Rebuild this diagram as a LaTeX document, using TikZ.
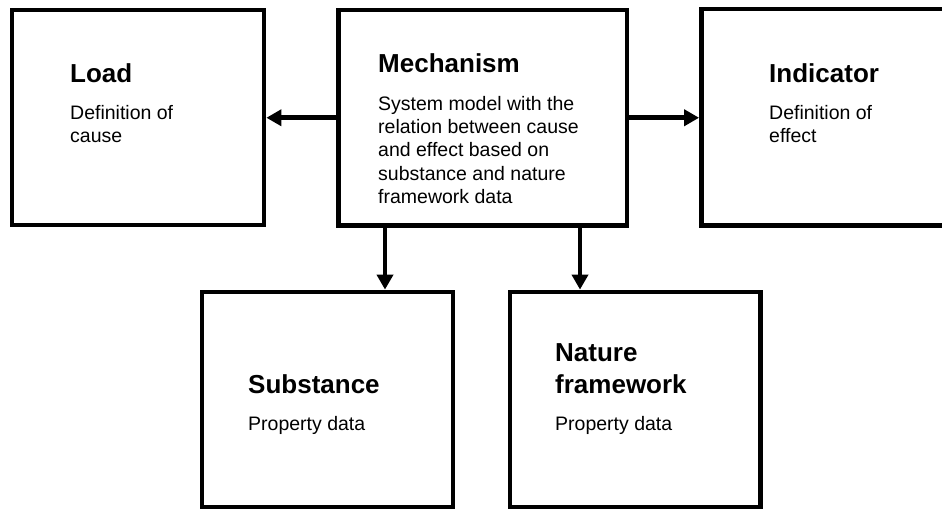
\documentclass[tikz,border=0pt]{standalone}
\usepackage{fontspec}
\setmainfont{Liberation Sans}
\usetikzlibrary{arrows.meta}
\begin{document}
\begin{tikzpicture}[x=1pt,y=-1pt,
  panel/.style={draw=black, line width=4.8pt, inner sep=0pt, rectangle},
  % multi-line texts are placed by the baseline of their last line
  head/.style={anchor=base west, inner sep=0pt, align=left,
    font=\fontsize{26}{31.6}\selectfont\bfseries},
  body/.style={anchor=base west, inner sep=0pt, align=left,
    font=\fontsize{19.5}{23.3}\selectfont},
  link/.style={draw=black, line width=4.6pt, -{Triangle[length=15pt,width=16pt]}}]
\clip (0,0) rectangle (942,509);

% boxes
\node[panel, minimum width=252pt, minimum height=215pt] (load) at (138,117.5) {};
\node[panel, minimum width=288.5pt, minimum height=215.5pt] (mech) at (482.75,117.75) {};
\node[panel, minimum width=290pt, minimum height=216.5pt] (ind) at (846.5,117.25) {};
\node[panel, minimum width=251pt, minimum height=215pt] (sub) at (327.5,399.5) {};
\node[panel, minimum width=250.5pt, minimum height=215pt] (nat) at (635.25,399.5) {};

% texts
\node[head] (loadT) at (70,82.7) {Load};
\node[body] (loadB) at (70,142.5) {Definition of\\cause};
\node[head] (mechT) at (378,72.7) {Mechanism};
\node[body] (mechB) at (378,203.3) {System model with the\\relation between cause\\and effect based on\\substance and nature\\framework data};
\node[head] (indT) at (769,82) {Indicator};
\node[body] (indB) at (769,142.5) {Definition of\\effect};
\node[head] (subT) at (248,393.3) {Substance};
\node[body] (subB) at (248,430.7) {Property data};
\node[head] (natT) at (555,393.3) {Nature\\framework};
\node[body] (natB) at (555,430.7) {Property data};

% connectors
\coordinate (dropA) at (385,0);
\coordinate (dropB) at (580,0);
\draw[link] (mech.west) -- (load.east |- mech.west);
\draw[link] (mech.east) -- (ind.west |- mech.east);
\draw[link] (mech.south -| dropA) -- (sub.north -| dropA);
\draw[link] (mech.south -| dropB) -- (nat.north -| dropB);
\end{tikzpicture}
\end{document}
